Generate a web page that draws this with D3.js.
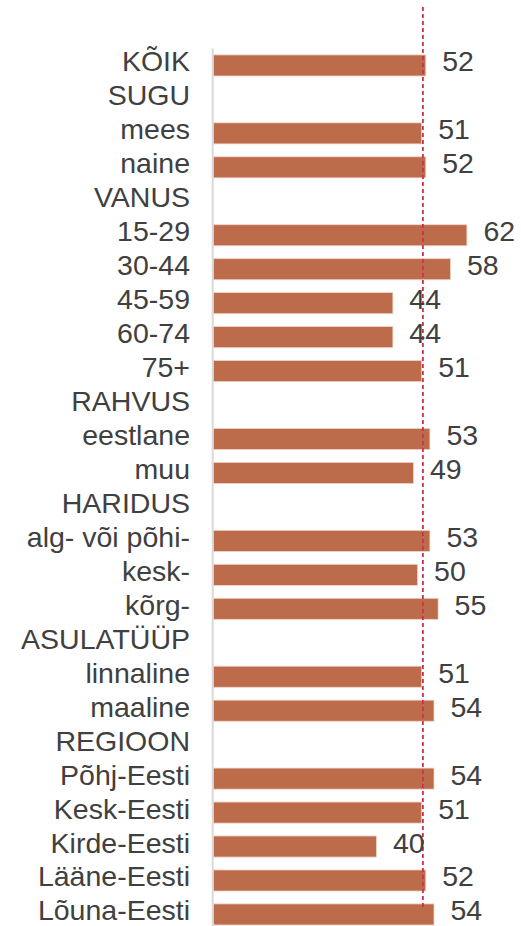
<!DOCTYPE html>
<html>
<head>
<meta charset="utf-8">
<script src="https://cdn.jsdelivr.net/npm/d3@7"></script>
<style>
  html, body { margin: 0; padding: 0; background: #fff; }
  svg { display: block; }
  text { font-family: "Liberation Sans", Arial, sans-serif; }
</style>
</head>
<body>
<svg id="chart" width="521" height="926"></svg>
<script>
// Row labels (headers have null values)
const categories = [
  "KÕIK", "SUGU", "mees", "naine", "VANUS", "15-29", "30-44", "45-59", "60-74", "75+",
  "RAHVUS", "eestlane", "muu", "HARIDUS", "alg- või põhi-", "kesk-", "kõrg-",
  "ASULATÜÜP", "linnaline", "maaline", "REGIOON", "Põhj-Eesti", "Kesk-Eesti",
  "Kirde-Eesti", "Lääne-Eesti", "Lõuna-Eesti"
];
const values = [
  52, null, 51, 52, null, 62, 58, 44, 44, 51,
  null, 53, 49, null, 53, 50, 55,
  null, 51, 54, null, 54, 51,
  40, 52, 54
];
const referenceValue = [51.3];

const svg = d3.select("#chart");
const W = 521, H = 926;

const x = d3.scaleLinear().domain([0, 100]).range([211.9, 211.9 + 411.3]);
const y = d3.scalePoint().domain(d3.range(categories.length)).range([65.45, 914.45]);
const step = y.step();
const barH = step * 0.62;

const rows = categories.map((c, i) => ({ c, v: values[i], i }));

// axis line
svg.append("line")
  .attr("x1", 212.7).attr("x2", 212.7)
  .attr("y1", y(0) - step / 2).attr("y2", H)
  .attr("stroke", "#d9d9d9").attr("stroke-width", 2);

// bars
svg.selectAll("rect.bar")
  .data(rows.filter(d => d.v != null))
  .enter().append("rect")
  .attr("class", "bar")
  .attr("x", x(0) + 1.6)
  .attr("y", d => y(d.i) - barH / 2)
  .attr("width", d => x(d.v) - x(0) - 1.6)
  .attr("height", barH)
  .attr("fill", "#BC6B4B")
  .attr("stroke", "#F0D2C4")
  .attr("stroke-width", 0.8);

// reference dashed line
svg.selectAll("line.ref")
  .data(referenceValue)
  .enter().append("line")
  .attr("class", "ref")
  .attr("x1", d => x(d)).attr("x2", d => x(d))
  .attr("y1", 7).attr("y2", 907)
  .attr("stroke", "#C8324A")
  .attr("stroke-width", 1.8)
  .attr("stroke-dasharray", "4,3");

// category labels
svg.selectAll("text.cat")
  .data(rows)
  .enter().append("text")
  .attr("class", "cat")
  .attr("x", 190)
  .attr("y", d => y(d.i) + 6)
  .attr("text-anchor", "end")
  .attr("font-size", 28.5)
  .attr("fill", "#404040")
  .text(d => d.c);

// value labels
svg.selectAll("text.val")
  .data(rows.filter(d => d.v != null))
  .enter().append("text")
  .attr("class", "val")
  .attr("x", d => x(d.v) + 16.5)
  .attr("y", d => y(d.i) + 6)
  .attr("text-anchor", "start")
  .attr("font-size", 28.5)
  .attr("fill", "#404040")
  .text(d => d.v);
</script>
</body>
</html>
